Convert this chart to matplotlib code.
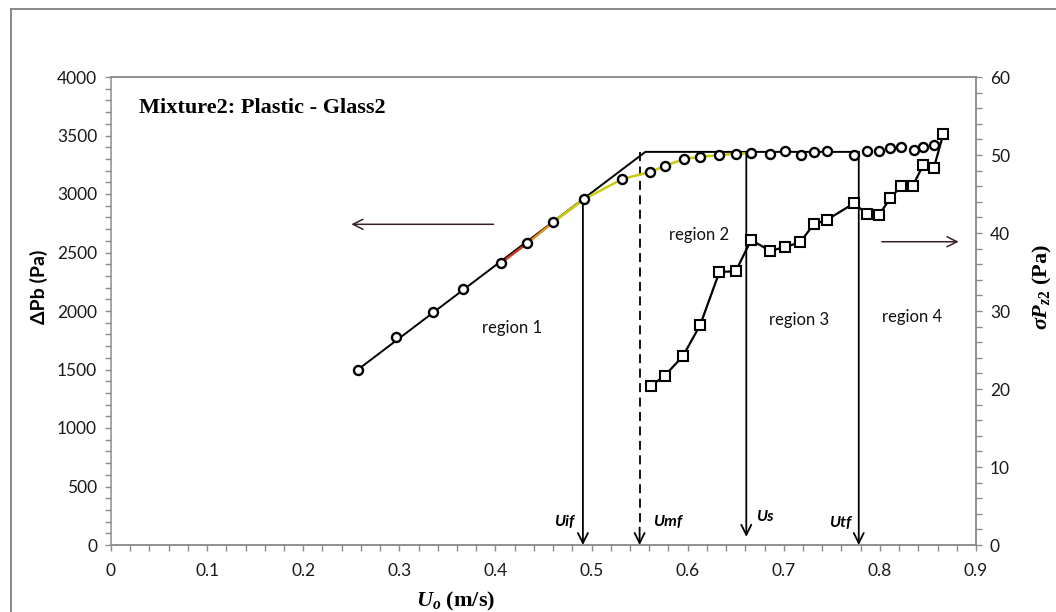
import matplotlib
matplotlib.use('Agg')
import matplotlib.pyplot as plt
from matplotlib.lines import Line2D
from matplotlib.ticker import MultipleLocator

plt.rcParams['mathtext.fontset'] = 'custom'
plt.rcParams['mathtext.rm'] = 'Liberation Serif:bold'
plt.rcParams['mathtext.it'] = 'Liberation Serif:italic:bold'
plt.rcParams['mathtext.bf'] = 'Liberation Serif:bold'

# bed pressure drop (circles, left axis)
u_dp = [0.257, 0.297, 0.335, 0.366, 0.406, 0.433, 0.460, 0.492, 0.532, 0.561,
        0.576, 0.596, 0.613, 0.633, 0.650, 0.666, 0.686, 0.701, 0.718, 0.731,
        0.745, 0.773, 0.787, 0.799, 0.811, 0.822, 0.835, 0.845, 0.856]
dp = [1500, 1780, 1994, 2185, 2413, 2578, 2758, 2955, 3128, 3188,
      3239, 3299, 3319, 3331, 3345, 3348, 3342, 3365, 3336, 3359,
      3368, 3336, 3368, 3368, 3390, 3399, 3376, 3405, 3419]

# pressure fluctuation std (squares, right axis)
u_sd = [0.562, 0.576, 0.595, 0.613, 0.633, 0.650, 0.666, 0.686, 0.701, 0.717,
        0.731, 0.745, 0.773, 0.787, 0.799, 0.811, 0.822, 0.834, 0.845, 0.856, 0.866]
sd = [20.4, 21.7, 24.2, 28.2, 35.0, 35.1, 39.1, 37.7, 38.2, 38.8,
      41.1, 41.7, 43.8, 42.4, 42.3, 44.5, 46.0, 46.0, 48.7, 48.3, 52.7]

# construction lines (fixed-bed line, plateau)
constr_u = [0.257, 0.556, 0.778]
constr_dp = [1500, 3360, 3360]

# characteristic velocities
vel_names = ['Uif', 'Umf', 'Us', 'Utf']
vel_u = [0.491, 0.550, 0.661, 0.778]
vel_top = [2955, 3360, 3360, 3360]
vel_bottom = [0, 0, 70, 0]
vel_label_u = [0.472, 0.579, 0.680, 0.759]
vel_label_dp = [197, 197, 240, 190]

regions = ['region 1', 'region 2', 'region 3', 'region 4']
region_u = [0.417, 0.612, 0.716, 0.833]
region_dp = [1855, 2650, 1923, 1949]

fig = plt.figure(figsize=(10.56, 6.12), dpi=100)
ax = fig.add_axes([111 / 1056, 67 / 612, 865 / 1056, 468 / 612])
ax2 = ax.twinx()

# figure frame (only left/top visible in the crop)
fig.add_artist(Line2D([11 / 1056, 11 / 1056], [0, 1 - 9 / 612], color='#808080', lw=1.3))
fig.add_artist(Line2D([11 / 1056, 1], [1 - 9 / 612, 1 - 9 / 612], color='#808080', lw=1.3))

# lines
ax.plot(constr_u, constr_dp, color='black', lw=1.4, zorder=2)
ax.plot(u_dp[4:6], dp[4:6], color='#c83a22', lw=1.8, zorder=3)
ax.plot(u_dp[5:8], dp[5:8], color='#e09020', lw=1.8, zorder=3)
ax.plot(u_dp[6:16], dp[6:16], color='#c6cc10', lw=1.8, zorder=3)
ax.plot(u_dp, dp, ls='none', marker='o', ms=6.5, mfc='white', mec='black', mew=1.7, zorder=5)

ax2.plot(u_sd, sd, color='black', lw=1.6, marker='s', ms=7, mfc='white', mec='black', mew=1.5)

# velocity arrows
for name, u, top, bot, lu, ld in zip(vel_names, vel_u, vel_top, vel_bottom, vel_label_u, vel_label_dp):
    if name == 'Umf':
        ax.plot([u, u], [top, bot + 150], color='black', lw=1.3, ls=(0, (5, 3)), zorder=2)
        ax.annotate('', xy=(u, bot), xytext=(u, bot + 150),
                    arrowprops=dict(arrowstyle='->', lw=1.3, color='black',
                                    shrinkA=0, shrinkB=0, mutation_scale=18))
    else:
        ax.annotate('', xy=(u, bot), xytext=(u, top),
                    arrowprops=dict(arrowstyle='->', lw=1.3, color='black',
                                    shrinkA=0, shrinkB=0, mutation_scale=18))
    ax.text(lu, ld, name, ha='center', va='center', fontsize=11.5, fontweight='bold',
            fontstyle='italic', family='Lato')

# region labels
for r, u, d in zip(regions, region_u, region_dp):
    ax.text(u, d, r, ha='center', va='center', fontsize=12, family='Lato', color='#111111')

# direction arrows
ax.annotate('', xy=(0.250, 2741), xytext=(0.398, 2741),
            arrowprops=dict(arrowstyle='->', lw=1.1, color='#3b1e28', shrinkA=0, shrinkB=0,
                            mutation_scale=18))
ax.annotate('', xy=(0.882, 2592), xytext=(0.802, 2592),
            arrowprops=dict(arrowstyle='->', lw=1.1, color='#3b1e28', shrinkA=0, shrinkB=0,
                            mutation_scale=18))

ax.text(0.029, 3738, 'Mixture2: Plastic - Glass2', ha='left', va='center', fontsize=16,
        fontweight='bold', family='Liberation Serif')

# axes
ax.set_xlim(0, 0.9)
ax.set_ylim(0, 4000)
ax2.set_ylim(0, 60)
ax.xaxis.set_major_locator(MultipleLocator(0.1))
ax.xaxis.set_minor_locator(MultipleLocator(0.02))
ax.yaxis.set_major_locator(MultipleLocator(500))
ax.yaxis.set_minor_locator(MultipleLocator(100))
ax2.yaxis.set_major_locator(MultipleLocator(10))
ax2.yaxis.set_minor_locator(MultipleLocator(2))
ax.set_xticks([i / 10 for i in range(10)])
ax.set_xticklabels(['0', '0.1', '0.2', '0.3', '0.4', '0.5', '0.6', '0.7', '0.8', '0.9'])

for a in (ax, ax2):
    for s in a.spines.values():
        s.set_color('#8c8c8c')
        s.set_linewidth(1.1)
    a.tick_params(which='both', direction='out', length=4, width=1, color='#8c8c8c',
                  labelsize=12.5, labelcolor='#1a1a1a', pad=6)
    for lab in a.get_xticklabels() + a.get_yticklabels():
        lab.set_family('Lato')
ax.tick_params(axis='x', pad=9)
ax2.spines['left'].set_visible(False)

ax.text(-0.0832, 0.551, 'ΔPb (Pa)', transform=ax.transAxes, rotation=90, ha='center',
        va='center', fontsize=14, fontweight='bold', family='Lato')
ax.text(0.398, -0.1197, r'$U_o$ (m/s)', transform=ax.transAxes, ha='center', va='center',
        fontsize=16, fontweight='bold', family='Liberation Serif')
ax.text(1.0763, 0.551, r'$\sigma P_{z2}$ (Pa)', transform=ax.transAxes, rotation=90,
        ha='center', va='center', fontsize=16, fontweight='bold', family='Liberation Serif')

fig.savefig('out.png', dpi=100)
